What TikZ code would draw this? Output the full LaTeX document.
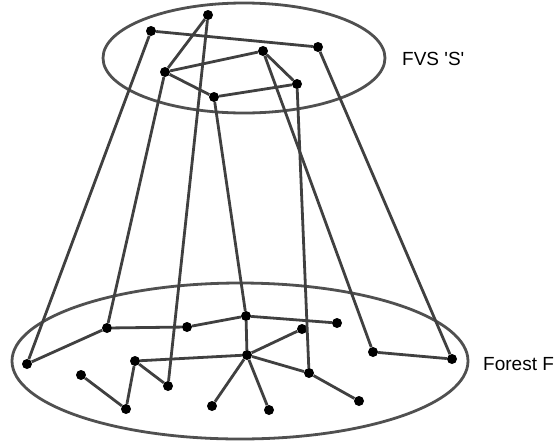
\documentclass[tikz,border=0pt]{standalone}
\usepackage{fontspec}
\setmainfont{Liberation Sans}
\usetikzlibrary{shapes, positioning}
\definecolor{edgegray}{RGB}{64,64,64}
\definecolor{ringgray}{RGB}{80,80,80}

\begin{document}
\begin{tikzpicture}[x=1pt, y=-1pt,
	dot/.style={circle, fill=black, inner sep=0pt, minimum size=10pt},
	ring/.style={draw=ringgray, line width=2.8pt},
	link/.style={draw=edgegray, line width=2.8pt},
	tag/.style={anchor=base west, inner sep=0pt, font=\fontsize{19}{23}\selectfont}]
	\useasboundingbox (0,0) rectangle (556,445);
	\draw[ring] (244,58) ellipse [x radius=141pt, y radius=55pt];
	\draw[ring] (240,361) ellipse [x radius=228pt, y radius=78pt];
	\node[tag] (fvs) at (402,65) {FVS \textquotesingle S\textquotesingle};
	\node[tag] (forest) at (483,370) {Forest F};
	\node[dot] (sa) at (208,15) {};
	\node[dot] (sb) at (151,31) {};
	\node[dot] (sc) at (318,47) {};
	\node[dot] (sd) at (263,51) {};
	\node[dot] (se) at (165,72) {};
	\node[dot] (sf) at (297,84) {};
	\node[dot] (sg) at (214,97) {};
	\node[dot] (f1) at (27,364) {};
	\node[dot] (f2) at (107,328) {};
	\node[dot] (f3) at (187,327) {};
	\node[dot] (f4) at (246,316) {};
	\node[dot] (f5) at (135,361) {};
	\node[dot] (f6) at (247,355) {};
	\node[dot] (f7) at (81,375) {};
	\node[dot] (f8) at (168,386) {};
	\node[dot] (f9) at (126,409) {};
	\node[dot] (f10) at (212,406) {};
	\node[dot] (f11) at (269,410) {};
	\node[dot] (f12) at (337,323) {};
	\node[dot] (f13) at (302,329) {};
	\node[dot] (f14) at (309,373) {};
	\node[dot] (f15) at (359,401) {};
	\node[dot] (f16) at (373,352) {};
	\node[dot] (f17) at (452,359) {};
	\draw[link] (sb) -- (sc);
	\draw[link] (sa) -- (se);
	\draw[link] (se) -- (sd);
	\draw[link] (se) -- (sg);
	\draw[link] (sg) -- (sf);
	\draw[link] (sd) -- (sf);
	\draw[link] (sb) -- (f1);
	\draw[link] (se) -- (f2);
	\draw[link] (sa) -- (f8);
	\draw[link] (sg) -- (f4);
	\draw[link] (sd) -- (f16);
	\draw[link] (sf) -- (f14);
	\draw[link] (sc) -- (f17);
	\draw[link] (f1) -- (f2);
	\draw[link] (f2) -- (f3);
	\draw[link] (f3) -- (f4);
	\draw[link] (f4) -- (f12);
	\draw[link] (f4) -- (f6);
	\draw[link] (f5) -- (f6);
	\draw[link] (f5) -- (f8);
	\draw[link] (f5) -- (f9);
	\draw[link] (f7) -- (f9);
	\draw[link] (f6) -- (f10);
	\draw[link] (f6) -- (f11);
	\draw[link] (f6) -- (f13);
	\draw[link] (f6) -- (f14);
	\draw[link] (f14) -- (f15);
	\draw[link] (f16) -- (f17);
\end{tikzpicture}
\end{document}
